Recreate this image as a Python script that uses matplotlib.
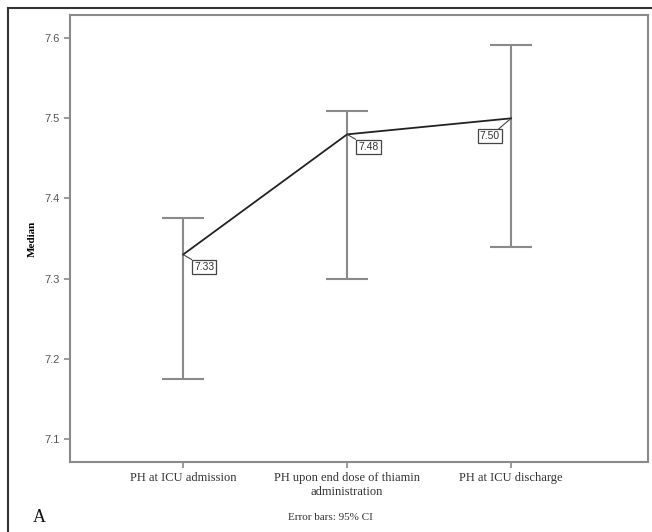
import matplotlib.pyplot as plt
from matplotlib.lines import Line2D

categorias = ["PH at ICU admission", "PH upon end dose of thiamin\nadministration", "PH at ICU discharge"]
medianas = [7.33, 7.48, 7.50]
ic_bajo = [7.175, 7.30, 7.34]
ic_alto = [7.375, 7.509, 7.592]
etiquetas = ["7.33", "7.48", "7.50"]
yticks = [7.1, 7.2, 7.3, 7.4, 7.5, 7.6]

serif = "Liberation Serif"
sans = "Liberation Sans"
gris = "#8a8a8a"

fig = plt.figure(figsize=(6.52, 5.32), dpi=100)
ax = fig.add_axes([70 / 652, 70 / 532, 578 / 652, 447 / 532])

x = list(range(len(categorias)))
err = [[m - lo for m, lo in zip(medianas, ic_bajo)], [hi - m for m, hi in zip(medianas, ic_alto)]]
ax.errorbar(x, medianas, yerr=err, fmt="none", ecolor=gris, elinewidth=1.5, capsize=15, capthick=1.5)
ax.plot(x, medianas, color="#222222", lw=1.3)

# la ultima etiqueta va a la izquierda del punto
desplaz = [(8, -9, "left"), (8, -9, "left"), (-8, -13, "right")]
for xi, m, t, (dx, dy, ha) in zip(x, medianas, etiquetas, desplaz):
    ax.annotate(t, xy=(xi, m), xytext=(dx, dy), textcoords="offset points", ha=ha, va="center",
                fontsize=7.5, family=sans, color="#333333",
                bbox=dict(boxstyle="square,pad=0.2", fc="white", ec="#444444", lw=0.9),
                arrowprops=dict(arrowstyle="-", color="#444444", lw=0.8, shrinkA=0, shrinkB=0))

ax.set_xlim(-0.69, 2.835)
ax.set_ylim(7.071, 7.629)
ax.set_yticks(yticks)
ax.set_yticklabels([f"{v:.1f}" for v in yticks], family=sans, fontsize=8, color="#555555")
ax.set_xticks(x)
ax.set_xticklabels(categorias, family=serif, fontsize=9, color="#333333")
ax.tick_params(direction="out", length=4, width=1.2, color=gris)
for s in ax.spines.values():
    s.set_color(gris)
    s.set_linewidth(1.5)
ax.set_ylabel("Median", family=serif, fontsize=8, fontweight="bold")
ax.yaxis.set_label_coords(-0.058, 0.5)

fig.add_artist(Line2D([8 / 652, 8 / 652], [0, 524 / 532], color="#333333", lw=1.5))
fig.add_artist(Line2D([8 / 652, 1], [524 / 532, 524 / 532], color="#333333", lw=1.5))

fig.text(330 / 652, 14 / 532, "Error bars: 95% CI", family=serif, fontsize=8, color="#333333", ha="center", va="center")
fig.text(33 / 652, 14 / 532, "A", family=serif, fontsize=13, color="#111111", ha="left", va="center")

fig.savefig("out.png", dpi=100)
